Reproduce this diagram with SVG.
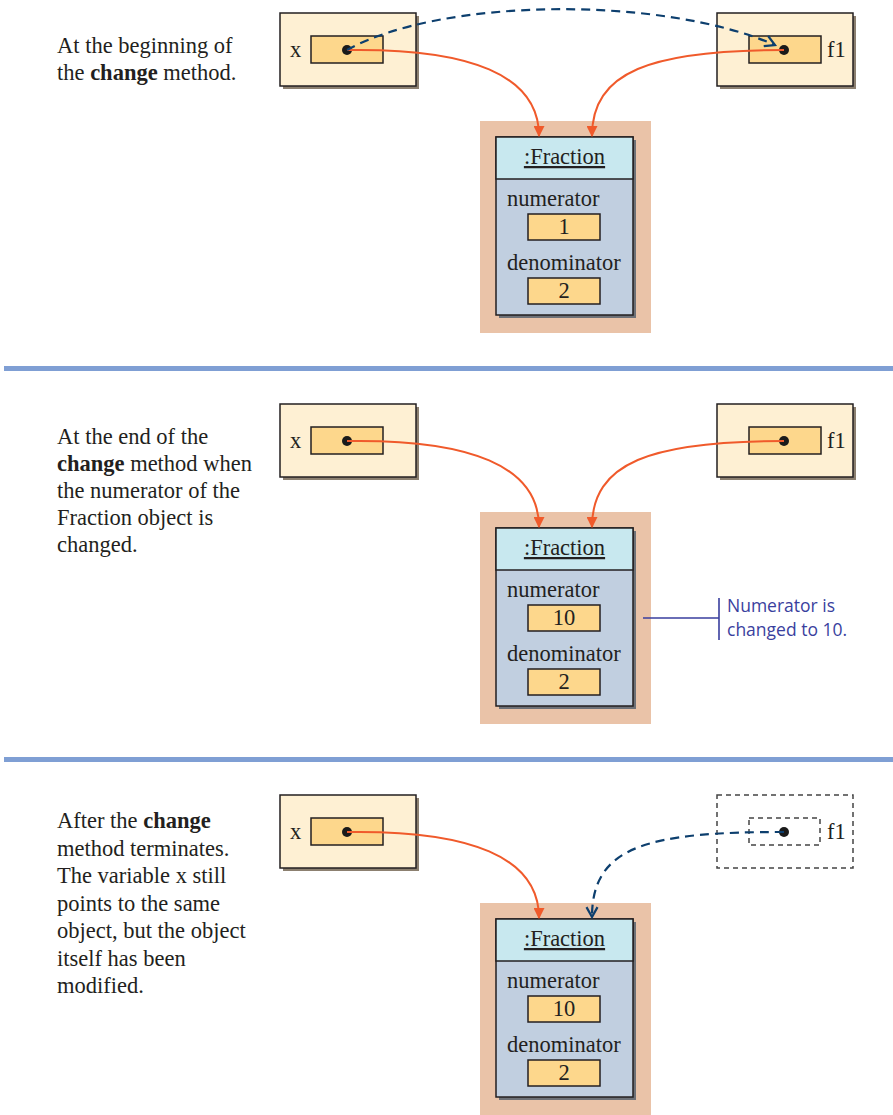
<svg xmlns="http://www.w3.org/2000/svg" width="893" height="1115" viewBox="0 0 893 1115">
<style>
.t{font-family:"Liberation Serif","Times New Roman",serif;font-size:22.5px;fill:#231f20}
.b{font-weight:bold}
.outer{fill:#fef0d3;stroke:#231f20;stroke-width:1.5}
.inner{fill:#fdd78c;stroke:#231f20;stroke-width:1.5}
.sh{fill:#8c8070}
.pink{fill:#eac3a8}
.hdr{fill:#c8e8ef;stroke:#231f20;stroke-width:1.5}
.body{fill:#c1cfe0;stroke:#231f20;stroke-width:1.5}
.bsh{fill:#6e7177}
.val{fill:#fdd78c;stroke:#231f20;stroke-width:1.5}
.red{fill:none;stroke:#f05a2b;stroke-width:2}
.blu{fill:none;stroke:#0d3f6e;stroke-width:2.2;stroke-dasharray:9,6}
.sep{fill:#7f9fd4}
.dash{fill:none;stroke:#444;stroke-width:1.5;stroke-dasharray:5,4}
.ann{font-family:"Open Sans","Liberation Sans",sans-serif;font-size:17.5px;fill:#3a3f9e}
</style>
<defs>
<marker id="ah" viewBox="0 0 10 10" refX="9" refY="5" markerWidth="5.5" markerHeight="5.5" orient="auto" markerUnits="strokeWidth">
<path d="M0,0 L10,5 L0,10 z" fill="#f05a2b"/>
</marker>
<marker id="oh" viewBox="0 0 12 12" refX="10" refY="6" markerWidth="6" markerHeight="6" orient="auto" markerUnits="strokeWidth">
<path d="M1,1 L10,6 L1,11" fill="none" stroke="#0d3f6e" stroke-width="2"/>
</marker>
<g id="fracShape">
<rect class="pink" x="480" y="121" width="171" height="212"/>
<rect class="bsh" x="499" y="140" width="137" height="178"/>
<rect class="body" x="496" y="137" width="137" height="178"/>
<rect class="hdr" x="496" y="137" width="137" height="42"/>
<text class="t" x="564.5" y="164" text-anchor="middle" text-decoration="underline">:Fraction</text>
<text class="t" x="507" y="206">numerator</text>
<text class="t" x="507" y="270">denominator</text>
<rect class="val" x="528" y="214" width="72" height="26"/>
<rect class="val" x="528" y="278" width="72" height="26"/>
<text class="t" x="564" y="298" text-anchor="middle">2</text>
</g>
<g id="xShape">
<rect class="sh" x="283" y="16" width="136" height="73"/>
<rect class="outer" x="280" y="13" width="136" height="73"/>
<rect class="inner" x="311" y="36" width="72" height="27"/>
<text class="t" x="290" y="57">x</text>
<circle cx="347" cy="50" r="5" fill="#1a1a1a"/>
</g>
<g id="fShape">
<rect class="sh" x="720" y="16" width="136" height="73"/>
<rect class="outer" x="717" y="13" width="136" height="73"/>
<rect class="inner" x="749" y="36" width="72" height="27"/>
<text class="t" x="827" y="57">f1</text>
</g>
</defs>

<!-- separators -->
<rect class="sep" x="4" y="366" width="889" height="5"/>
<rect class="sep" x="4" y="757" width="889" height="5"/>

<!-- Panel 1 -->
<g id="caption1">
<text class="t" x="57" y="53">At the beginning of</text>
<text class="t" x="57" y="80">the <tspan class="b">change</tspan> method.</text>
</g>
<g id="x1"><use href="#xShape"/></g>
<g id="f1a"><use href="#fShape"/><circle cx="784" cy="50" r="5" fill="#1a1a1a"/></g>
<g id="frac1"><use href="#fracShape"/><text class="t" x="564" y="234" text-anchor="middle">1</text></g>

<!-- Panel 2 -->
<g id="caption2">
<text class="t" x="57" y="444">At the end of the</text>
<text class="t" x="57" y="471"><tspan class="b">change</tspan> method when</text>
<text class="t" x="57" y="498">the numerator of the</text>
<text class="t" x="57" y="525">Fraction object is</text>
<text class="t" x="57" y="552">changed.</text>
</g>
<g id="x2" transform="translate(0,391)"><use href="#xShape"/></g>
<g id="f2" transform="translate(0,391)"><use href="#fShape"/><circle cx="784" cy="50" r="5" fill="#1a1a1a"/></g>
<g id="frac2" transform="translate(0,391)"><use href="#fracShape"/><text class="t" x="564" y="234" text-anchor="middle">10</text></g>
<g id="note2">
<path d="M643,618 H719 M719,598 V640" fill="none" stroke="#3a3f9e" stroke-width="1.6"/>
<text class="ann" x="727" y="612">Numerator is</text>
<text class="ann" x="727" y="636">changed to 10.</text>
</g>

<!-- Panel 3 -->
<g id="caption3">
<text class="t" x="57" y="828">After the <tspan class="b">change</tspan></text>
<text class="t" x="57" y="855.5">method terminates.</text>
<text class="t" x="57" y="883">The variable x still</text>
<text class="t" x="57" y="910.5">points to the same</text>
<text class="t" x="57" y="938">object, but the object</text>
<text class="t" x="57" y="965.5">itself has been</text>
<text class="t" x="57" y="993">modified.</text>
</g>
<g id="x3" transform="translate(0,782)"><use href="#xShape"/></g>
<g id="f3">
<rect class="dash" x="717" y="795" width="136" height="73"/>
<rect class="dash" x="749" y="818" width="71" height="27"/>
<text class="t" x="827" y="839">f1</text>
<circle cx="784" cy="832" r="5" fill="#1a1a1a"/>
</g>
<g id="frac3" transform="translate(0,782)"><use href="#fracShape"/><text class="t" x="564" y="234" text-anchor="middle">10</text></g>

<!-- connectors -->
<g id="connectors">
<path class="red" d="M347,50 C470,48 539,75 539,136" marker-end="url(#ah)"/>
<path class="red" d="M784,50 C650,50 592,72 592,136" marker-end="url(#ah)"/>
<path class="blu" d="M347,50 C440,-2 660,-5 775,45" marker-end="url(#oh)"/>
<path class="red" d="M347,441 C470,439 539,466 539,527" marker-end="url(#ah)"/>
<path class="red" d="M784,441 C650,441 592,463 592,527" marker-end="url(#ah)"/>
<path class="red" d="M347,832 C470,830 539,857 539,918" marker-end="url(#ah)"/>
<path class="blu" d="M784,832 C650,832 592,845 592,917" marker-end="url(#oh)"/>
</g>
</svg>
